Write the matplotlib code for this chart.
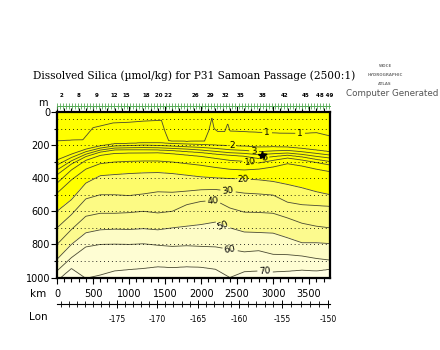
import numpy as np
import matplotlib
matplotlib.use("Agg")
import matplotlib.pyplot as plt
from matplotlib.ticker import MultipleLocator

# ---------------- data ----------------
title = "Dissolved Silica (\u00b5mol/kg) for P31 Samoan Passage (2500:1)"

km_nodes = [0, 200, 400, 600, 800, 1000, 1200, 1400, 1600, 1800, 2000,
            2200, 2400, 2600, 2800, 3000, 3200, 3400, 3600, 3790]

# depth (m) of each silica contour at km_nodes
lvl2 = [290, 255, 225, 205, 192, 190, 186, 186, 190, 193, 196, 200, 204, 206, 212, 210, 212, 220, 230, 240]
lvl3 = [320, 275, 240, 218, 205, 203, 200, 202, 206, 210, 214, 220, 228, 232, 240, 235, 232, 240, 250, 260]
lvl4 = [350, 295, 255, 230, 218, 216, 215, 216, 220, 224, 230, 238, 246, 250, 258, 252, 248, 256, 268, 278]
lvl5 = [380, 315, 270, 243, 230, 229, 229, 230, 234, 240, 246, 255, 262, 268, 282, 270, 262, 272, 287, 300]
lvl10 = [430, 350, 292, 262, 250, 248, 247, 246, 252, 260, 268, 280, 292, 298, 308, 292, 278, 290, 305, 320]
lvl15 = [490, 410, 345, 312, 302, 298, 296, 296, 302, 312, 322, 335, 346, 350, 345, 332, 312, 326, 345, 360]
lvl20 = [600, 530, 430, 385, 378, 372, 368, 366, 372, 382, 392, 398, 402, 405, 410, 420, 438, 458, 482, 500]
lvl30 = [700, 620, 525, 500, 500, 505, 495, 482, 485, 478, 470, 468, 478, 490, 495, 502, 545, 560, 565, 570]
lvl40 = [800, 710, 630, 612, 612, 608, 600, 610, 600, 560, 540, 535, 580, 605, 607, 612, 640, 672, 690, 700]
lvl50 = [890, 800, 730, 712, 708, 710, 705, 712, 700, 690, 680, 665, 700, 725, 728, 732, 760, 790, 790, 795]
lvl60 = [960, 880, 815, 800, 798, 800, 796, 805, 812, 808, 812, 815, 830, 845, 838, 860, 862, 870, 885, 895]
lvl70 = [1020, 945, 1005, 985, 960, 952, 945, 935, 940, 935, 938, 950, 1000, 965, 960, 966, 962, 955, 960, 950]

# the 1 umol/kg contour has its own nodes (more structure)
km1 = [0, 200, 360, 500, 780, 1000, 1200, 1450, 1500, 1550, 1800, 2050, 2110, 2150,
       2180, 2230, 2330, 2370, 2400, 2550, 2900, 3100, 3400, 3600, 3790]
lvl1 = [175, 170, 168, 95, 66, 62, 55, 50, 120, 175, 178, 176, 110, 35,
        100, 118, 118, 70, 115, 118, 125, 128, 130, 125, 145]

levels = [1, 2, 3, 4, 5, 10, 15, 20, 30, 40, 50, 60, 70]
surface_value = 0.5
bottom_value, bottom_depth = 75, 1100

fill_bounds = [0, 20, 30, 40, 50, 60, 70, 100]
fill_colors = ["#ffff00", "#fdfb6a", "#fcfa84", "#fcfa8e", "#fdfcc6", "#fefdd3", "#fffee2"]

# contour labels: level and distance (km) where the label sits
label_levels = [1, 1, 2, 3, 5, 10, 20, 30, 40, 50, 60, 70]
label_km = [2917, 3375, 2430, 2736, 2880, 2680, 2583, 2375, 2167, 2305, 2403, 2889]

sample_depths = [40, 100, 200, 300, 400, 500, 600, 700, 800, 900]

star_km, star_depth = 2847, 262

lon_labels = [-175, -170, -165, -160, -155, -150]
lon_km = [833, 1389, 1958, 2528, 3125, 3764]

station_km = [69, 306, 556, 792, 958, 1236, 1480, 1917, 2125,
              2333, 2542, 2847, 3153, 3458, 3720]
station_ids = ["2", "8", "9", "12", "15", "18", "20 22", "26", "29",
               "32", "35", "38", "42", "45", "48 49"]

# ---------------- build field ----------------
xmax = 3790
xg = np.linspace(0, xmax, 600)
zg = np.linspace(0, 1000, 400)
all_rows = [lvl2, lvl3, lvl4, lvl5, lvl10, lvl15, lvl20, lvl30, lvl40, lvl50, lvl60, lvl70]
depth_rows = [np.interp(xg, km1, lvl1)] + [np.interp(xg, km_nodes, d) for d in all_rows]
D = np.vstack(depth_rows)
field = np.empty((zg.size, xg.size))
vcol = np.concatenate([[surface_value], levels, [bottom_value]])
for j in range(xg.size):
    dcol = np.concatenate([[0.0], D[:, j], [bottom_depth]])
    dcol = np.maximum.accumulate(dcol + np.arange(dcol.size) * 1e-6)
    field[:, j] = np.interp(zg, dcol, vcol)

# ---------------- figure ----------------
W, H = 440, 350
fig = plt.figure(figsize=(W / 100, H / 100), dpi=100)
fig.patch.set_facecolor("white")
L, R, T, B = 57, 330, 112, 277.5
ax = fig.add_axes([L / W, 1 - B / H, (R - L) / W, (B - T) / H])

ax.contourf(xg, zg, field, levels=fill_bounds, colors=fill_colors)
cs = ax.contour(xg, zg, field, levels=levels, colors="#4a4a30", linewidths=0.6)

for d in sample_depths:
    ax.axhline(d, color="black", lw=0.7, ls=(0, (0.8, 3.2)), zorder=3)

# label positions on the lines themselves
row_of = {1: (km1, lvl1), 2: (km_nodes, lvl2), 3: (km_nodes, lvl3), 5: (km_nodes, lvl5),
          10: (km_nodes, lvl10), 20: (km_nodes, lvl20), 30: (km_nodes, lvl30),
          40: (km_nodes, lvl40), 50: (km_nodes, lvl50), 60: (km_nodes, lvl60),
          70: (km_nodes, lvl70)}
manual = []
for lv, k in zip(label_levels, label_km):
    kx, dy = row_of[lv]
    manual.append((k, float(np.interp(k, kx, dy))))
try:
    ax.clabel(cs, levels=cs.levels, manual=manual, fmt="%d",
              fontsize=6.5, inline=True, inline_spacing=2, colors="black")
except Exception:
    pass

ax.plot([star_km], [star_depth], marker="*", color="black", ms=6, zorder=5)

ax.set_xlim(0, xmax)
ax.set_ylim(1000, 0)
for s in ax.spines.values():
    s.set_linewidth(1.6)
ax.xaxis.set_major_locator(MultipleLocator(500))
ax.xaxis.set_minor_locator(MultipleLocator(100))
ax.yaxis.set_major_locator(MultipleLocator(200))
ax.yaxis.set_minor_locator(MultipleLocator(100))
ax.tick_params(axis="both", which="both", direction="out", width=0.8, labelsize=7)
ax.tick_params(axis="x", which="major", length=4, top=True, pad=4)
ax.tick_params(axis="x", which="minor", length=3, top=True)
ax.tick_params(axis="y", which="major", length=4, pad=1)
ax.tick_params(axis="y", which="minor", length=2)

fig.text(43 / W, 1 - 103 / H, "m", fontsize=7, ha="center", va="center")
fig.text(38 / W, 1 - 294 / H, "km", fontsize=7.5, ha="center", va="center")
fig.text(38 / W, 1 - 317 / H, "Lon", fontsize=7.5, ha="center", va="center")

# longitude axis
lax = fig.add_axes([L / W, 1 - 304 / H, (R - L) / W, 0.001])
lax.set_xlim(0, xmax)
lax.set_ylim(0, 1)
for k in ["top", "left", "right"]:
    lax.spines[k].set_visible(False)
lax.spines["bottom"].set_linewidth(0.8)
lax.set_yticks([])
slope = (lon_km[1] - lon_km[0]) / (lon_labels[1] - lon_labels[0])
lon_minor = np.arange(-182, -149)
ext_lon = [lon_labels[0] - 10] + lon_labels
ext_km = [lon_km[0] - 10 * slope] + lon_km
lax.set_xticks(lon_km)
lax.set_xticklabels([str(v) for v in lon_labels], fontsize=5.5)
lax.set_xticks(np.interp(lon_minor, ext_lon, ext_km), minor=True)
lax.tick_params(axis="x", which="major", direction="inout", length=6, width=0.7, pad=5)
lax.tick_params(axis="x", which="minor", direction="inout", length=4, width=0.6)

# station markers strip
sax = fig.add_axes([L / W, 1 - 106 / H, (R - L) / W, 0.001])
sax.set_xlim(0, xmax)
for k in ["top", "left", "right"]:
    sax.spines[k].set_visible(False)
sax.spines["bottom"].set_color("#55aa55")
sax.spines["bottom"].set_linewidth(0.7)
sax.set_yticks([])
sax.xaxis.set_major_locator(MultipleLocator(42))
sax.tick_params(axis="x", which="major", direction="inout", length=4, width=0.6,
                color="#55aa55", labelbottom=False)
for xk, sid in zip(station_km, station_ids):
    fig.text((L + xk * (R - L) / xmax) / W, 1 - 96 / H, sid, fontsize=4,
             fontweight="bold", ha="center", va="center")

fig.text(194 / W, 1 - 76 / H, title, fontsize=7.6, family="DejaVu Serif",
         ha="center", va="center")
fig.text(385 / W, 1 - 66 / H, "WOCE", fontsize=2.8, color="#777777",
         fontweight="bold", ha="center", va="center")
fig.text(385 / W, 1 - 75 / H, "HYDROGRAPHIC", fontsize=2.8, color="#777777",
         fontweight="bold", ha="center", va="center")
fig.text(385 / W, 1 - 84 / H, "ATLAS", fontsize=2.8, color="#777777",
         fontweight="bold", ha="center", va="center")
fig.text(392 / W, 1 - 93 / H, "Computer Generated", fontsize=6.3, color="#555555",
         ha="center", va="center")

fig.savefig("out.png", dpi=100, facecolor="white")
